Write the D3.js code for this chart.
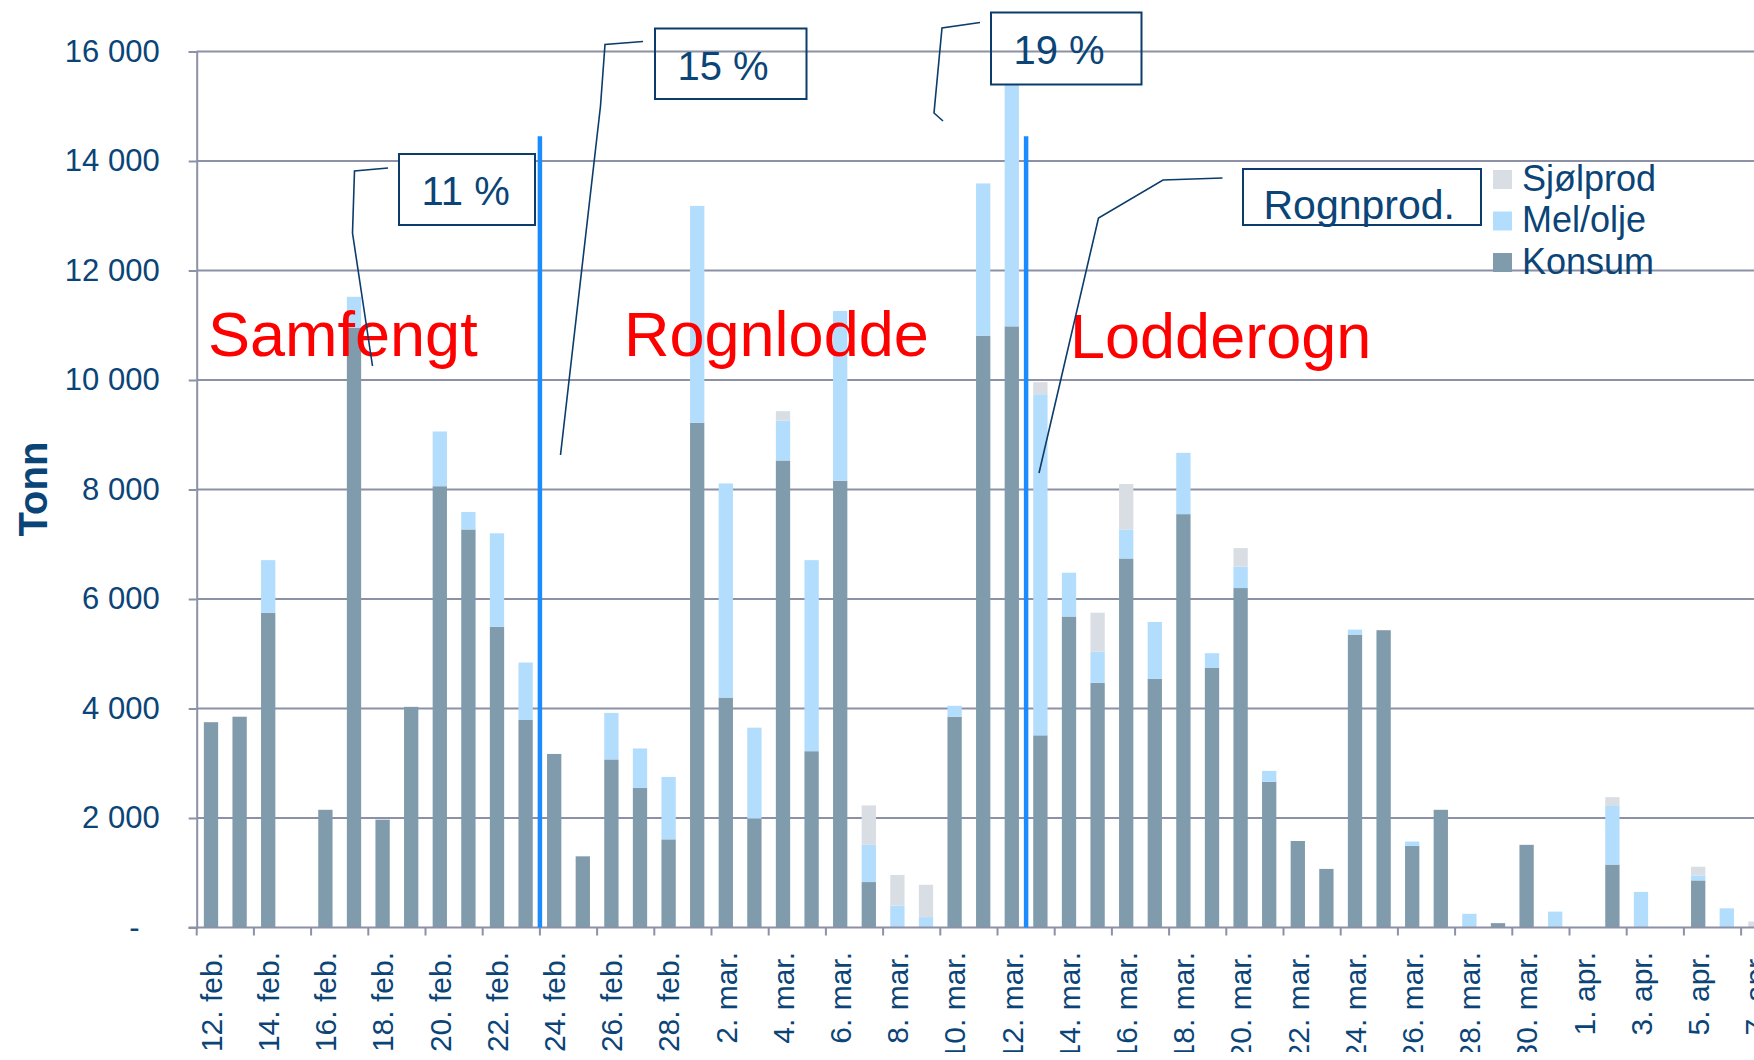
<!DOCTYPE html>
<html lang="no">
<head>
<meta charset="UTF-8">
<title>Fangst per dag</title>
<script src="https://d3js.org/d3.v7.min.js"></script>
<style>
  body { margin: 0; background: #fff; }
  svg { display: block; font-family: 'Liberation Sans', Arial, Helvetica, sans-serif; }
</style>
</head>
<body>
<div id="chart"></div>
<script>
// categories (one per day)
const dates = [
  '12. feb.', '13. feb.', '14. feb.', '15. feb.', '16. feb.', '17. feb.', '18. feb.', '19. feb.', '20. feb.', '21. feb.',
  '22. feb.', '23. feb.', '24. feb.', '25. feb.', '26. feb.', '27. feb.', '28. feb.',
  '1. mar.', '2. mar.', '3. mar.', '4. mar.', '5. mar.', '6. mar.', '7. mar.', '8. mar.', '9. mar.', '10. mar.',
  '11. mar.', '12. mar.', '13. mar.', '14. mar.', '15. mar.', '16. mar.', '17. mar.', '18. mar.', '19. mar.', '20. mar.',
  '21. mar.', '22. mar.', '23. mar.', '24. mar.', '25. mar.', '26. mar.', '27. mar.', '28. mar.', '29. mar.', '30. mar.', '31. mar.',
  '1. apr.', '2. apr.', '3. apr.', '4. apr.', '5. apr.', '6. apr.', '7. apr.'
];

// tonn per day
const konsum = [
  3750, 3850, 5750, 0, 2150, 10950, 1970, 4030, 8060, 7270,
  5490, 3790, 3170, 1300, 3070, 2550, 1610,
  9220, 4200, 1990, 8530, 3220, 8160, 830, 0, 0, 3850,
  10810, 10980, 3510, 5680, 4470, 6740, 4540, 7550, 4740, 6200,
  2660, 1580, 1070, 5350, 5430, 1490, 2150, 0, 80, 1510, 0,
  0, 1150, 0, 0, 860, 0, 0
];
const melOlje = [
  0, 0, 960, 0, 0, 570, 0, 0, 1000, 320,
  1710, 1050, 0, 0, 850, 720, 1140,
  3960, 3910, 1660, 730, 3490, 3100, 680, 400, 190, 200,
  2780, 4420, 6230, 800, 570, 530, 1040, 1120, 270, 390,
  200, 0, 0, 90, 0, 80, 0, 250, 0, 0, 290,
  0, 1070, 650, 0, 90, 350, 0
];
const sjolprod = [
  0, 0, 0, 0, 0, 0, 0, 0, 0, 0,
  0, 0, 0, 0, 0, 0, 0,
  0, 0, 0, 170, 0, 0, 720, 560, 590, 0,
  0, 0, 220, 0, 710, 830, 0, 0, 0, 340,
  0, 0, 0, 0, 0, 0, 0, 0, 0, 0, 0,
  0, 160, 0, 0, 160, 0, 110
];

const seriesKeys = ['Konsum', 'Mel/olje', 'Sjølprod'];
const legendOrder = ['Sjølprod', 'Mel/olje', 'Konsum'];
const yTicks = [0, 2000, 4000, 6000, 8000, 10000, 12000, 14000, 16000];
const periodLabels = ['Samfengt', 'Rognlodde', 'Lodderogn'];
const shareLabels = ['11 %', '15 %', '19 %'];

const colors = {
  'Konsum': '#7f9bac',
  'Mel/olje': '#b3ddfd',
  'Sjølprod': '#d9dee5'
};
const textBlue = '#0b4477';
const boxBlue = '#0b3c6b';
const gridGray = '#8c91a5';

const width = 1754, height = 1060;
const plotLeft = 196.7, plotTop = 51.5, plotBottom = 927.5, step = 28.6;

const svg = d3.select('#chart').append('svg')
  .attr('width', width)
  .attr('height', height);

const x = d3.scaleBand()
  .domain(dates)
  .range([plotLeft, plotLeft + dates.length * step])
  .paddingInner(0.5)
  .paddingOuter(0.25);

const y = d3.scaleLinear()
  .domain([0, 16000])
  .range([plotBottom, plotTop]);

// gridlines
svg.append('g')
  .selectAll('line')
  .data(yTicks.slice(1))
  .join('line')
  .attr('x1', plotLeft)
  .attr('x2', width)
  .attr('y1', d => y(d))
  .attr('y2', d => y(d))
  .attr('stroke', gridGray)
  .attr('stroke-width', 2);

// y axis
const fmt = d3.formatLocale({ decimal: ',', thousands: '\u00a0', grouping: [3], currency: ['', ''] }).format(',');
const yAxis = svg.append('g')
  .attr('transform', `translate(${plotLeft},0)`)
  .call(d3.axisLeft(y).tickValues(yTicks).tickSize(8).tickPadding(29)
    .tickFormat(d => d === 0 ? '-' : fmt(d)));
yAxis.select('.domain').attr('stroke', gridGray).attr('stroke-width', 2);
yAxis.selectAll('.tick line').attr('stroke', gridGray).attr('stroke-width', 2);
yAxis.selectAll('.tick text')
  .attr('fill', textBlue)
  .style('font-size', '31px')
  .style('font-family', "'Liberation Sans', Arial, sans-serif")
  .attr('dx', d => d === 0 ? -20 : 0);

// stacked bars
const rows = dates.map((d, i) => ({ date: d, 'Konsum': konsum[i], 'Mel/olje': melOlje[i], 'Sjølprod': sjolprod[i] }));
const stacked = d3.stack().keys(seriesKeys)(rows);

svg.append('g')
  .selectAll('g')
  .data(stacked)
  .join('g')
  .attr('fill', s => colors[s.key])
  .selectAll('rect')
  .data(s => s.filter(p => p[1] > p[0]))
  .join('rect')
  .attr('x', p => x(p.data.date))
  .attr('width', x.bandwidth())
  .attr('y', p => y(p[1]))
  .attr('height', p => y(p[0]) - y(p[1]));

// x axis line and tick marks (at category boundaries, every other day)
const gap = x.step() - x.bandwidth();
svg.append('line')
  .attr('x1', plotLeft - 8).attr('x2', width)
  .attr('y1', plotBottom).attr('y2', plotBottom)
  .attr('stroke', gridGray).attr('stroke-width', 2);

const labelled = dates.filter((d, i) => i % 2 === 0);
svg.append('g')
  .selectAll('line')
  .data(labelled)
  .join('line')
  .attr('x1', d => x(d) - gap / 2)
  .attr('x2', d => x(d) - gap / 2)
  .attr('y1', plotBottom)
  .attr('y2', plotBottom + 8)
  .attr('stroke', gridGray)
  .attr('stroke-width', 2);

svg.append('clipPath').attr('id', 'labelClip')
  .append('rect').attr('x', 0).attr('y', 0).attr('width', width).attr('height', 1052);

svg.append('g')
  .attr('clip-path', 'url(#labelClip)')
  .selectAll('text')
  .data(labelled)
  .join('text')
  .attr('transform', d => `translate(${x(d) + x.bandwidth() / 2},952) rotate(-90)`)
  .attr('text-anchor', 'end')
  .attr('dy', '0.36em')
  .attr('fill', textBlue)
  .style('font-size', '30px')
  .text(d => d);

// y axis title
svg.append('text')
  .attr('transform', 'translate(33,489) rotate(-90)')
  .attr('text-anchor', 'middle')
  .attr('dy', '0.36em')
  .attr('fill', textBlue)
  .style('font-size', '40px')
  .style('font-weight', 'bold')
  .text('Tonn');

// period dividers
const dividers = ['24. feb.', '13. mar.'];
svg.append('g')
  .selectAll('line')
  .data(dividers)
  .join('line')
  .attr('x1', d => x(d) - gap / 2)
  .attr('x2', d => x(d) - gap / 2)
  .attr('y1', y(14450))
  .attr('y2', plotBottom)
  .attr('stroke', '#1a8cff')
  .attr('stroke-width', 4.5);

// period names
const periodPos = [[208, 355.5], [624, 355.5], [1070, 357.5]];
svg.append('g')
  .selectAll('text')
  .data(periodLabels)
  .join('text')
  .attr('x', (d, i) => periodPos[i][0])
  .attr('y', (d, i) => periodPos[i][1])
  .attr('fill', '#ff0000')
  .style('font-size', '63px')
  .text(d => d);

// leader lines
const leaders = [
  [[388, 168], [354.5, 171], [352.5, 233], [372.5, 366]],
  [[643, 41.5], [605, 44.5], [600.5, 106], [560.5, 455]],
  [[980, 22.5], [942, 28], [934, 113], [943, 121]],
  [[1222.5, 178], [1163, 180], [1098.5, 218], [1039, 473]]
];
svg.append('g')
  .selectAll('path')
  .data(leaders)
  .join('path')
  .attr('d', d3.line())
  .attr('fill', 'none')
  .attr('stroke', boxBlue)
  .attr('stroke-width', 1.6);

// annotation boxes
const boxes = [
  { text: shareLabels[0], x: 399, y: 154, w: 136, h: 71, tx: 421.5, ty: 205, size: 40, fill: '#fff' },
  { text: shareLabels[1], x: 655, y: 28.5, w: 151.5, h: 70.5, tx: 677.5, ty: 80, size: 40, fill: 'none' },
  { text: shareLabels[2], x: 991, y: 12.5, w: 150.5, h: 72, tx: 1013.5, ty: 63.5, size: 40, fill: 'none' },
  { text: 'Rognprod.', x: 1243, y: 169, w: 238, h: 56, tx: 1263.5, ty: 219, size: 41, fill: 'none' }
];
const box = svg.append('g')
  .selectAll('g')
  .data(boxes)
  .join('g');
box.append('rect')
  .attr('x', d => d.x).attr('y', d => d.y)
  .attr('width', d => d.w).attr('height', d => d.h)
  .attr('fill', d => d.fill)
  .attr('stroke', boxBlue)
  .attr('stroke-width', 2);
box.append('text')
  .attr('x', d => d.tx).attr('y', d => d.ty)
  .attr('fill', textBlue)
  .style('font-size', d => d.size + 'px')
  .text(d => d.text);

// legend
const legend = svg.append('g')
  .selectAll('g')
  .data(legendOrder)
  .join('g')
  .attr('transform', (d, i) => `translate(1493,${170 + i * 41.5})`);
legend.append('rect')
  .attr('width', 19).attr('height', 19)
  .attr('fill', d => colors[d]);
legend.append('text')
  .attr('x', 29).attr('y', 20.5)
  .attr('fill', textBlue)
  .style('font-size', '36px')
  .text(d => d);
</script>
</body>
</html>
